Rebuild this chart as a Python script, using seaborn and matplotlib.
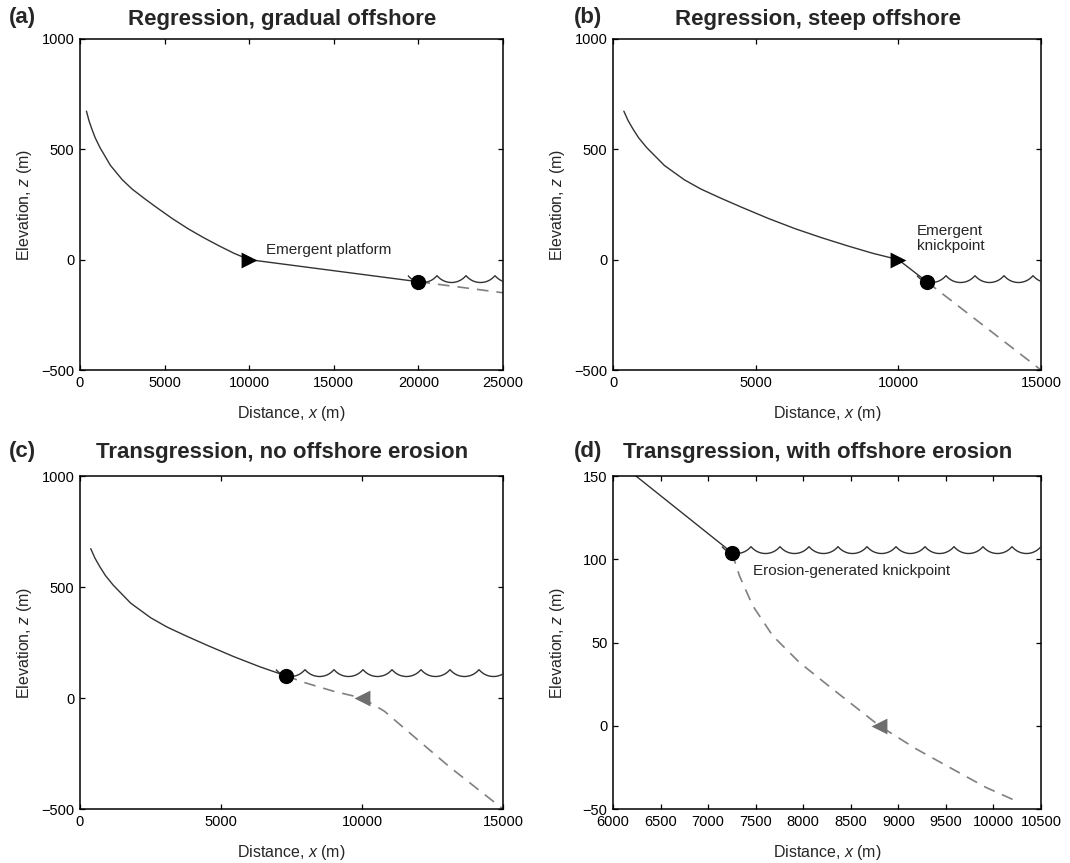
import numpy as np
import pandas as pd
import seaborn as sns
import matplotlib.pyplot as plt
from matplotlib.path import Path

# river profile above the shoreline (shared by a, b, c)
profile_x = [380, 530, 710, 900, 1180, 1800, 2500, 3080, 3790, 4500, 5440, 6390,
             7300, 8235, 9100, 10000]
profile_z = [673, 630, 590, 552, 508, 427, 362, 320, 278, 238, 187, 140,
             100, 62, 29, 0]

# (a) regression, gradual offshore
a_plat_x = [10000, 20000]
a_plat_z = [0, -100]
a_off_x = [20000, 25000]
a_off_z = [-100, -150]

# (b) regression, steep offshore
b_plat_x = [10000, 11000]
b_plat_z = [0, -100]
b_off_x = [11000, 15000]
b_off_z = [-100, -500]

# (c) transgression, no offshore erosion
c_land_n = 13  # profile points up to the shoreline
c_off_x = [7300, 8000, 9000, 10000, 10800, 11900, 13100, 14300, 15000]
c_off_z = [100, 68, 30, 0, -60, -180, -310, -430, -500]

# (d) transgression, with offshore erosion
d_land_x = [6000, 7250]
d_land_z = [161, 104]
d_off_x = [7250, 7330, 7470, 7680, 7960, 8310, 8800, 9190, 9570, 9920, 10270]
d_off_z = [104, 90, 72, 54, 38, 22, 0, -14, -26, -37, -46]

# knickpoints / shoreline markers
shore = {"a": (20000, -100), "b": (11000, -100), "c": (7300, 100), "d": (7250, 104)}
emergent = {"a": (10000, 0), "b": (10000, 0)}
drowned = {"c": (10000, 0), "d": (8800, 0)}

titles = {"a": "Regression, gradual offshore", "b": "Regression, steep offshore",
          "c": "Transgression, no offshore erosion", "d": "Transgression, with offshore erosion"}

sns.set_style("white", {"xtick.direction": "in", "ytick.direction": "in",
                        "xtick.top": True, "ytick.right": True,
                        "xtick.bottom": True, "ytick.left": True,
                        "axes.edgecolor": "black"})
plt.rcParams["font.family"] = ["Liberation Sans", "DejaVu Sans"]
plt.rcParams["mathtext.fontset"] = "custom"
plt.rcParams["mathtext.it"] = "Liberation Sans:italic"
plt.rcParams["mathtext.rm"] = "Liberation Sans"

W, H = 1070, 863
fig = plt.figure(figsize=(W / 100, H / 100), dpi=100)
axes = {
    "a": fig.add_axes([80 / W, 1 - 370 / H, 423 / W, 331 / H]),
    "b": fig.add_axes([613 / W, 1 - 370 / H, 428 / W, 331 / H]),
    "c": fig.add_axes([80 / W, 1 - 809 / H, 423 / W, 333 / H]),
    "d": fig.add_axes([613 / W, 1 - 809 / H, 428 / W, 333 / H]),
}
limits = {"a": ((0, 25000), (-500, 1000)), "b": ((0, 15000), (-500, 1000)),
          "c": ((0, 15000), (-500, 1000)), "d": ((6000, 10500), (-50, 150))}

solid_kw = dict(color="#333333", linewidth=1.0, sort=False, estimator=None)
dash_kw = dict(color="#808080", linewidth=1.2, sort=False, estimator=None,
               linestyle=(0, (7, 4.8)))

# one scallop of the sea-surface symbol
t = np.linspace(-0.8947, 0.8947, 31)
R = 1.2817
wave_path = Path(np.column_stack([R * np.sin(t), R - R * np.cos(t)]))


def line(ax, x, z, **kw):
    sns.lineplot(data=pd.DataFrame({"x": x, "z": z}), x="x", y="z", ax=ax, **kw)


def sea(ax, key):
    x0, z0 = shore[key]
    (xa, xb), _ = limits[key]
    width_px = ax.get_position().width * W
    per_px = (xb - xa) / width_px
    pos = np.arange(x0 + 4 * per_px, xb + 15 * per_px, 29 * per_px)
    ax.plot(pos, np.full(len(pos), z0), linestyle="none", marker=wave_path,
            markersize=20.9, markerfacecolor="none", markeredgecolor="#333333",
            markeredgewidth=1.0, zorder=3)


for key, ax in axes.items():
    if key == "a":
        line(ax, profile_x, profile_z, **solid_kw)
        line(ax, a_plat_x, a_plat_z, **solid_kw)
        line(ax, a_off_x, a_off_z, **dash_kw)
    elif key == "b":
        line(ax, profile_x, profile_z, **solid_kw)
        line(ax, b_plat_x, b_plat_z, **solid_kw)
        line(ax, b_off_x, b_off_z, **dash_kw)
    elif key == "c":
        line(ax, profile_x[:c_land_n], profile_z[:c_land_n], **solid_kw)
        line(ax, c_off_x, c_off_z, **dash_kw)
    else:
        line(ax, d_land_x, d_land_z, **solid_kw)
        line(ax, d_off_x, d_off_z, **dash_kw)

    sea(ax, key)
    sx, sz = shore[key]
    sns.scatterplot(x=[sx], y=[sz], ax=ax, color="black", s=120, marker="o",
                    linewidth=0, zorder=5)
    if key in emergent:
        ex, ez = emergent[key]
        sns.scatterplot(x=[ex], y=[ez], ax=ax, color="black", s=130, marker=">",
                        linewidth=0, zorder=5)
    if key in drowned:
        gx, gz = drowned[key]
        sns.scatterplot(x=[gx], y=[gz], ax=ax, color="#6e6e6e", s=130, marker="<",
                        linewidth=0, zorder=5)

    (xa, xb), (ya, yb) = limits[key]
    ax.set_xlim(xa, xb)
    ax.set_ylim(ya, yb)
    for s in ax.spines.values():
        s.set_linewidth(1.1)
    ax.tick_params(length=3.5, width=0.9, labelsize=10.5, pad=4, colors="black")
    ax.set_xlabel("Distance, $\\it{x}$ (m)", fontsize=11.5)
    ax.set_ylabel("Elevation, $\\it{z}$ (m)", fontsize=11.5)
    ax.xaxis.set_label_coords(0.5, -34 / (ax.get_position().height * H))
    ax.yaxis.set_label_coords(-46 / (ax.get_position().width * W), 0.5)
    top_off = 20 if key in "ab" else 24
    ax.text(0.478, 1 + top_off / (ax.get_position().height * H), titles[key],
            transform=ax.transAxes, ha="center", va="center",
            fontsize=16, fontweight="bold")

axes["a"].set_xticks([0, 5000, 10000, 15000, 20000, 25000])
axes["b"].set_xticks([0, 5000, 10000, 15000])
axes["c"].set_xticks([0, 5000, 10000, 15000])
axes["d"].set_xticks(np.arange(6000, 10501, 500))
for k in "abc":
    axes[k].set_yticks([-500, 0, 500, 1000])
axes["d"].set_yticks([-50, 0, 50, 100, 150])

axes["a"].text(11000, 45, "Emergent platform", fontsize=11, va="center")
axes["b"].text(10650, 95, "Emergent\nknickpoint", fontsize=11, va="center",
               linespacing=1.1)
axes["d"].text(7470, 93, "Erosion-generated knickpoint", fontsize=11, va="center")

for lab, (px, py) in {"(a)": (22, 18), "(b)": (588, 18),
                      "(c)": (22, 452), "(d)": (588, 452)}.items():
    fig.text(px / W, 1 - py / H, lab, fontsize=16, fontweight="bold",
             ha="center", va="center")

fig.savefig("out.png", dpi=100)
